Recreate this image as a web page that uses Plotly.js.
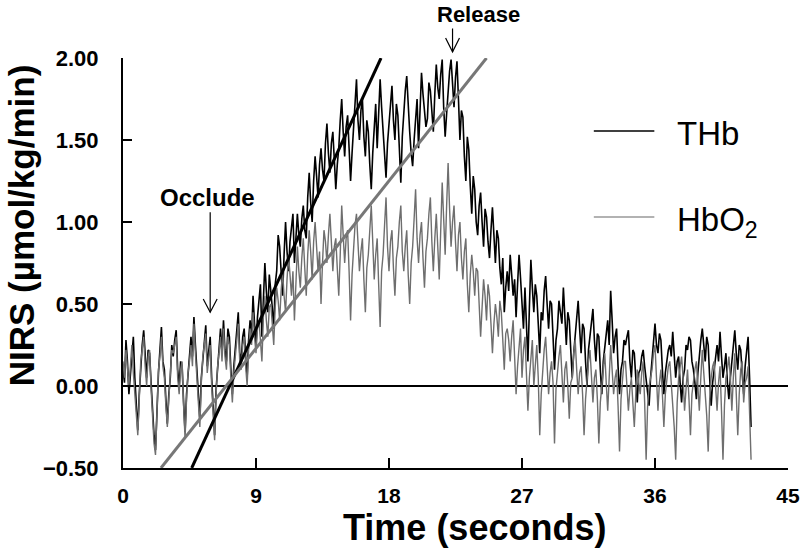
<!DOCTYPE html>
<html>
<head>
<meta charset="utf-8">
<script src="https://cdn.plot.ly/plotly-3.0.1.min.js"></script>
<style>
  html, body { margin: 0; padding: 0; background: #fff; }
  #chart { width: 800px; height: 553px; }
</style>
</head>
<body>
<div id="chart"></div>
<script>
// sample step of the NIRS record (seconds)
var dt = 0.1;

// THb trace, one value every dt from t = 0 (one row = 1 s)
var thb = [
  0.10, 0.02, 0.28, 0.15, -0.05, 0.08, 0.22, 0.30, 0.05, -0.12,
  -0.27, -0.05, 0.12, 0.25, 0.34, 0.18, 0.05, 0.22, 0.20, 0.02,
  -0.15, -0.30, -0.39, -0.10, 0.08, 0.22, 0.36, 0.15, 0.10, -0.08,
  -0.23, -0.05, 0.05, 0.25, 0.18, 0.28, 0.34, 0.10, 0.00, 0.15,
  0.12, -0.10, -0.28, -0.05, 0.05, 0.20, 0.30, 0.18, 0.42, 0.25,
  0.10, -0.05, -0.20, 0.05, 0.15, 0.28, 0.37, 0.12, 0.20, 0.30,
  0.05, -0.15, -0.30, -0.02, 0.10, 0.25, 0.35, 0.20, 0.40, 0.22,
  0.15, 0.35, 0.30, 0.10, -0.05, 0.12, 0.25, 0.38, 0.45, 0.20,
  0.15, 0.30, 0.35, 0.18, 0.05, 0.28, 0.40, 0.30, 0.55, 0.38,
  0.25, 0.42, 0.50, 0.62, 0.30, 0.55, 0.75, 0.58, 0.45, 0.68,
  0.60, 0.48, 0.35, 0.62, 0.70, 0.92, 0.85, 0.68, 0.55, 0.80,
  1.00, 0.82, 0.70, 0.88, 0.95, 1.05, 0.75, 0.90, 1.05, 0.92,
  0.85, 1.02, 1.10, 0.95, 0.90, 1.15, 1.30, 1.12, 1.00, 1.25,
  1.40, 1.28, 1.15, 1.35, 1.45, 1.32, 1.25, 1.48, 1.60, 1.42,
  1.30, 1.48, 1.55, 1.38, 1.20, 1.35, 1.45, 1.62, 1.75, 1.55,
  1.40, 1.58, 1.65, 1.45, 1.25, 1.42, 1.55, 1.72, 1.87, 1.62,
  1.50, 1.68, 1.75, 1.52, 1.40, 1.62, 1.55, 1.35, 1.20, 1.42,
  1.60, 1.72, 1.45, 1.65, 1.87, 1.70, 1.55, 1.42, 1.27, 1.48,
  1.60, 1.75, 1.83, 1.62, 1.50, 1.72, 1.65, 1.45, 1.24, 1.52,
  1.70, 1.80, 1.89, 1.68, 1.55, 1.42, 1.34, 1.50, 1.60, 1.75,
  1.45, 1.72, 1.91, 1.78, 1.70, 1.58, 1.63, 1.85, 1.80, 1.68,
  1.55, 1.78, 1.96, 1.82, 1.75, 1.90, 1.99, 1.70, 1.52, 1.66,
  1.80, 1.92, 1.99, 1.85, 1.70, 1.88, 1.98, 1.75, 1.50, 1.68,
  1.64, 1.40, 1.25, 1.52, 1.44, 1.22, 1.05, 1.28, 1.20, 1.00,
  0.92, 1.10, 1.18, 1.00, 0.85, 1.08, 1.03, 0.88, 0.78, 0.95,
  1.09, 0.92, 0.75, 0.95, 0.90, 0.72, 0.62, 0.78, 0.45, 0.60,
  0.70, 0.58, 0.80, 0.68, 0.55, 0.65, 0.42, 0.62, 0.80, 0.66,
  0.50, 0.35, 0.60, 0.40, 0.15, 0.48, 0.77, 0.60, 0.45, 0.62,
  0.55, 0.38, 0.20, 0.45, 0.40, 0.58, 0.67, 0.50, 0.35, 0.52,
  0.50, 0.30, 0.10, 0.28, 0.35, 0.52, 0.45, 0.38, 0.60, 0.42,
  0.25, 0.45, 0.40, 0.22, 0.05, 0.20, 0.30, 0.45, 0.52, 0.35,
  0.20, 0.38, 0.35, 0.15, 0.00, 0.22, 0.30, 0.40, 0.47, 0.28,
  0.15, 0.32, 0.30, 0.10, -0.05, 0.15, 0.25, 0.35, 0.40, 0.25,
  0.58, 0.40, 0.20, 0.30, 0.35, 0.12, -0.05, 0.10, 0.15, 0.28,
  0.25, 0.30, 0.34, 0.15, 0.05, 0.22, 0.20, 0.05, -0.10, 0.08,
  0.10, 0.18, 0.22, 0.12, 0.05, -0.05, -0.12, 0.05, 0.15, 0.28,
  0.38, 0.25, 0.20, 0.32, 0.28, 0.10, -0.05, 0.08, 0.15, 0.22,
  0.25, 0.18, 0.33, 0.20, 0.05, 0.15, 0.18, 0.02, -0.10, 0.05,
  0.10, 0.25, 0.22, 0.30, 0.28, 0.15, 0.10, 0.02, -0.08, 0.08,
  0.20, 0.28, 0.35, 0.22, 0.15, 0.30, 0.25, 0.05, -0.12, 0.02,
  0.10, 0.20, 0.25, 0.15, 0.33, 0.18, 0.05, 0.12, 0.20, 0.02,
  -0.08, 0.05, 0.15, 0.28, 0.34, 0.20, 0.10, 0.25, 0.22, 0.08,
  -0.05, 0.12, 0.20, 0.30, 0.05, -0.25
];

// HbO2 trace, same sampling
var hbo2 = [
  0.15, 0.05, 0.22, 0.10, 0.00, 0.12, 0.25, 0.08, -0.05, -0.15,
  -0.30, -0.08, 0.15, 0.22, 0.30, 0.12, 0.00, 0.18, 0.22, -0.02,
  -0.20, -0.35, -0.42, -0.12, 0.10, 0.18, 0.30, 0.12, 0.05, -0.12,
  -0.25, -0.08, 0.10, 0.22, 0.20, 0.25, 0.30, 0.05, -0.05, 0.10,
  0.15, -0.12, -0.32, -0.08, 0.08, 0.15, 0.25, 0.12, 0.38, 0.20,
  0.05, -0.10, -0.25, 0.02, 0.18, 0.25, 0.32, 0.08, 0.15, 0.25,
  0.00, -0.18, -0.33, -0.05, 0.12, 0.20, 0.30, 0.15, 0.35, 0.18,
  0.10, 0.30, 0.25, 0.05, -0.10, 0.08, 0.20, 0.32, 0.38, 0.15,
  0.10, 0.25, 0.30, 0.12, 0.00, 0.22, 0.35, 0.25, 0.45, 0.30,
  0.20, 0.35, 0.40, 0.28, 0.15, 0.42, 0.55, 0.40, 0.30, 0.48,
  0.50, 0.38, 0.25, 0.48, 0.60, 0.52, 0.40, 0.58, 0.70, 0.55,
  0.45, 0.65, 0.80, 0.68, 0.55, 0.70, 0.40, 0.62, 0.85, 0.70,
  0.60, 0.78, 0.90, 0.72, 0.55, 0.80, 0.95, 0.82, 0.65, 0.88,
  1.00, 0.85, 0.70, 0.82, 0.50, 0.75, 0.95, 0.88, 0.75, 0.92,
  1.05, 0.88, 0.70, 0.85, 0.90, 0.72, 0.55, 0.80, 1.10, 0.92,
  0.75, 0.90, 0.95, 0.70, 0.40, 0.68, 0.85, 0.98, 1.05, 0.82,
  0.70, 0.82, 0.90, 0.65, 0.45, 0.72, 0.80, 0.95, 1.10, 0.88,
  0.65, 0.80, 0.90, 0.62, 0.36, 0.70, 0.80, 0.98, 1.15, 0.85,
  0.70, 0.88, 0.95, 0.72, 0.55, 0.78, 0.85, 1.00, 1.10, 0.82,
  0.70, 0.85, 0.95, 0.68, 0.50, 0.75, 0.85, 1.02, 1.20, 0.90,
  0.75, 0.92, 1.00, 0.78, 0.60, 0.82, 0.90, 1.05, 1.15, 0.88,
  0.70, 0.90, 1.05, 0.85, 0.65, 0.95, 1.24, 1.02, 0.80, 1.10,
  1.36, 1.08, 0.85, 1.00, 1.10, 0.88, 0.70, 0.92, 1.00, 0.78,
  0.65, 0.82, 0.90, 0.62, 0.45, 0.68, 0.80, 0.70, 0.55, 0.72,
  0.70, 0.50, 0.30, 0.48, 0.65, 0.55, 0.40, 0.62, 0.55, 0.38,
  0.20, 0.38, 0.50, 0.42, 0.30, 0.52, 0.45, 0.28, 0.10, 0.32,
  0.35, 0.28, 0.15, 0.30, 0.40, 0.18, -0.05, 0.12, 0.25, 0.35,
  0.05, 0.22, 0.30, 0.08, -0.15, 0.05, 0.20, 0.28, 0.00, 0.15,
  0.25, 0.05, -0.30, -0.05, 0.10, 0.22, 0.30, 0.12, -0.05, 0.08,
  0.15, 0.02, -0.35, -0.02, 0.10, 0.18, 0.25, 0.05, -0.10, 0.10,
  0.15, 0.00, -0.20, 0.02, 0.05, 0.20, 0.28, 0.10, -0.05, 0.08,
  0.12, -0.05, -0.30, -0.08, 0.05, 0.15, 0.22, 0.05, -0.10, 0.05,
  0.10, -0.08, -0.35, -0.10, 0.00, 0.12, 0.20, 0.02, -0.15, 0.05,
  0.25, 0.10, -0.05, 0.05, 0.10, -0.12, -0.40, -0.08, 0.05, 0.15,
  0.15, 0.02, -0.15, -0.02, 0.05, -0.10, -0.25, -0.05, 0.10, 0.02,
  -0.05, 0.08, 0.15, -0.10, -0.45, -0.12, 0.00, 0.05, 0.10, 0.20,
  0.25, 0.05, -0.15, 0.02, 0.10, -0.05, -0.25, -0.05, 0.05, 0.12,
  0.15, 0.02, -0.10, -0.25, -0.45, -0.10, 0.05, 0.12, 0.18, 0.05,
  -0.15, -0.02, 0.10, -0.08, -0.30, -0.05, 0.05, 0.10, 0.15, 0.02,
  -0.15, 0.05, 0.22, 0.08, -0.05, -0.18, -0.40, -0.08, 0.05, 0.12,
  0.15, 0.00, -0.15, 0.02, 0.12, -0.15, -0.45, -0.12, 0.05, 0.10,
  0.18, 0.05, -0.15, 0.05, 0.20, -0.05, -0.30, -0.05, 0.10, 0.15,
  -0.10, 0.02, 0.05, 0.12, -0.20, -0.45
];

// regression lines drawn over the rise (end points)
var fitThbX = [4.65, 17.46];
var fitThbY = [-0.5, 2.0];
var fitHbo2X = [2.57, 24.6];
var fitHbo2Y = [-0.5, 2.0];

// event markers
var occludeTime = 5.9;
var releaseTime = 22.3;

var xTicks = [0, 9, 18, 27, 36, 45];
var yTicks = [-0.5, 0, 0.5, 1.0, 1.5, 2.0];

var thbColor = "#000";
var hbo2Color = "#6e6e6e";

var data = [
  {
    y: thb, x0: 0, dx: dt,
    type: "scatter", mode: "lines", name: "THb", showlegend: false,
    line: {color: thbColor, width: 1.6}
  },
  {
    y: hbo2, x0: 0, dx: dt,
    type: "scatter", mode: "lines", name: "HbO2", showlegend: false,
    line: {color: hbo2Color, width: 1.4}
  },
  {
    x: fitThbX, y: fitThbY,
    type: "scatter", mode: "lines", showlegend: false,
    line: {color: "#000", width: 3}
  },
  {
    x: fitHbo2X, y: fitHbo2Y,
    type: "scatter", mode: "lines", showlegend: false,
    line: {color: "#777", width: 3}
  }
];

// arrow shaft + open head, the way the figure marks events
function arrowShapes(x, yTop, yTip, yref, halfW, headH) {
  return [
    {type: "line", xref: "x", yref: yref, x0: x, x1: x, y0: yTop, y1: yTip,
     line: {color: "#000", width: 1.2}},
    {type: "path", xref: "x", yref: yref,
     path: "M" + (x - halfW) + "," + (yTip + headH) + " L" + x + "," + yTip +
           " L" + (x + halfW) + "," + (yTip + headH),
     line: {color: "#000", width: 1.2}}
  ];
}

// legend drawn by hand: long sample lines to the left of big labels
function legendLine(y, color) {
  return {type: "line", xref: "paper", yref: "paper",
          x0: 0.708, x1: 0.799, y0: y, y1: y,
          line: {color: color, width: 1.5}};
}

var shapes = arrowShapes(occludeTime, 1.06, 0.45, "y", 0.47, 0.08)
  .concat(arrowShapes(releaseTime, 1.072, 1.015, "paper", 0.47, 0.034))
  .concat([legendLine(0.822, thbColor), legendLine(0.612, "#999")]);

var layout = {
  width: 800,
  height: 553,
  margin: {l: 123, r: 12, t: 58, b: 85},
  paper_bgcolor: "#fff",
  plot_bgcolor: "#fff",
  font: {family: "Liberation Sans, Arial, sans-serif", color: "#000"},
  showlegend: false,
  xaxis: {
    range: [0, 45],
    tickvals: xTicks,
    ticks: "inside", ticklen: 10, tickwidth: 2, tickcolor: "#000",
    showline: true, linecolor: "#000", linewidth: 2,
    showgrid: false, zeroline: false,
    ticklabelstandoff: 8,
    tickfont: {size: 21, weight: "bold"}
  },
  yaxis: {
    range: [-0.5, 2.0],
    tickvals: yTicks,
    tickformat: ".2f",
    ticks: "inside", ticklen: 9, tickwidth: 2, tickcolor: "#000",
    showline: true, linecolor: "#000", linewidth: 2,
    showgrid: false,
    zeroline: true, zerolinecolor: "#000", zerolinewidth: 2,
    ticklabelstandoff: 18,
    tickfont: {size: 22, weight: "bold"}
  },
  shapes: shapes,
  annotations: [
    {
      xref: "paper", yref: "paper",
      x: -0.1534, y: 0.592, xanchor: "center", yanchor: "middle",
      text: "NIRS (µmol/kg/min)",
      textangle: -90, showarrow: false,
      font: {size: 35, weight: "bold"}
    },
    {
      xref: "paper", yref: "paper",
      x: 0.529, y: -0.144, xanchor: "center", yanchor: "middle",
      text: "Time (seconds)",
      showarrow: false,
      font: {size: 36, weight: "bold"}
    },
    {
      xref: "x", yref: "y",
      x: occludeTime - 0.2, y: 1.15, xanchor: "center", yanchor: "middle",
      text: "Occlude", showarrow: false,
      font: {size: 24, weight: "bold"}
    },
    {
      xref: "paper", yref: "paper",
      x: 0.534, y: 1.107, xanchor: "center", yanchor: "middle",
      text: "Release", showarrow: false,
      font: {size: 22, weight: "bold"}
    },
    {
      xref: "paper", yref: "paper",
      x: 0.830, y: 0.817, xanchor: "left", yanchor: "middle",
      text: "THb", showarrow: false,
      font: {size: 33}
    },
    {
      xref: "paper", yref: "paper",
      x: 0.830, y: 0.600, xanchor: "left", yanchor: "middle",
      text: "HbO<sub>2</sub>", showarrow: false,
      font: {size: 33}
    }
  ]
};

Plotly.newPlot("chart", data, layout, {displayModeBar: false});
</script>
</body>
</html>
